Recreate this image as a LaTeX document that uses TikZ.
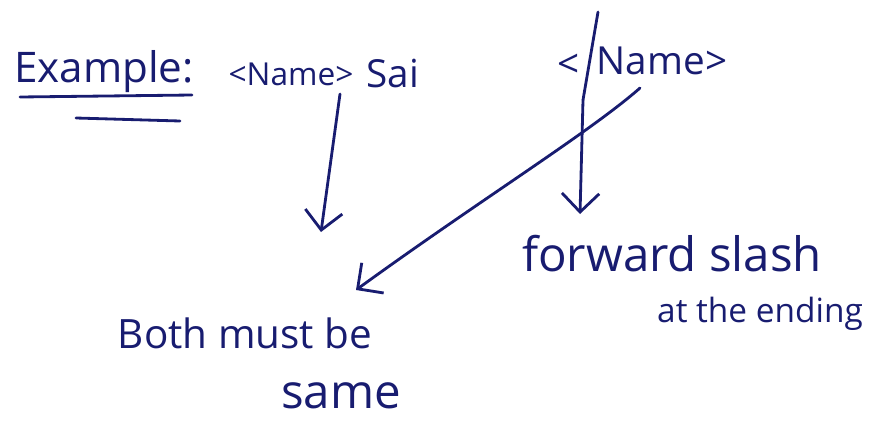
\documentclass[tikz,border=0pt]{standalone}
\usepackage{fontspec}
\setmainfont{Open Sans}
\usetikzlibrary{arrows.meta}
\definecolor{ink}{RGB}{24,28,112}
\tikzset{
	hand/.style  = {text=ink, inner sep=0pt, font=\fontsize{#1}{#1}\selectfont},
	hand/.default = 24,
	pen/.style   = {draw=ink, line width=1.6pt, line cap=round, line join=round},
	tagpos/.style = {coordinate} % where the arrows start and end
}

\begin{document}
\begin{tikzpicture}[x=0.02cm, y=-0.02cm, >={Straight Barb[angle=90:15pt]}]
	\useasboundingbox (0,0) rectangle (884,423);

	\draw
	node at (104,72) [hand] (ex) {Example:}
	node at (291,74) [hand=18] (open) {<Name>}
	node at (393,74) [hand=22] (sai) {Sai}
	node at (569,66) [hand=22] (lt) {<}
	node at (662,61) [hand=22] (close) {Name>}
	node at (672,254) [hand=27] (fwd) {forward slash}
	node at (760,314) [hand=19] (end) {at the ending}
	node at (245,333) [hand=23] (both) {Both must be}
	node at (341,396) [hand=27] (same) {same};

	\draw
	node at (340,94) [tagpos] (p1) {}
	node at (583,100) [tagpos] (p2) {}
	node at (598,12) [tagpos] (top) {}
	node at (640,88) [tagpos] (p3) {}
	node at (321,232) [tagpos] (h1) {}
	node at (580,214) [tagpos] (h2) {}
	node at (356,290) [tagpos] (h3) {};

	% underline of Example
	\draw[pen] (20,97) -- (192,95);
	\draw[pen] (76,118) -- (180,121);

	% long stroke of the closing slash
	\draw[pen] (top) -- (p2);

	\draw[pen,->] (p1) -- (h1);
	\draw[pen,->] (p2) -- (h2);
	\draw[pen,->] (p3) .. controls (590,132) and (480,200) .. (h3);

\end{tikzpicture}
\end{document}
